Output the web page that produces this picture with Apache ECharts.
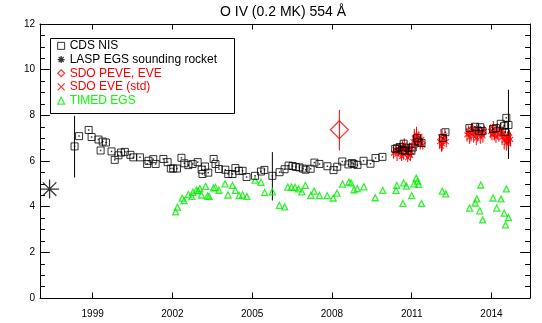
<!DOCTYPE html>
<html>
<head>
<meta charset="utf-8">
<script src="https://cdn.jsdelivr.net/npm/echarts@6/dist/echarts.min.js"></script>
<style>
html,body{margin:0;padding:0;background:#fff;}
#chart{width:542px;height:323px;}
</style>
</head>
<body>
<div id="chart"></div>
<script>
const titleText = 'O IV (0.2 MK) 554 Å';
const xTickYears = [1999, 2002, 2005, 2008, 2011, 2014];
const yTickValues = [0, 2, 4, 6, 8, 10, 12];

const cdsYears = [1998.32,1998.49,1998.85,1998.96,1999.22,1999.38,1999.50,1999.30,1999.71,1999.83,
1999.97,2000.07,2000.21,2000.42,2000.53,2000.78,2001.05,2001.10,2001.28,2001.37,
2001.66,2001.82,2001.94,2002.03,2002.17,2002.34,2002.45,2002.60,2002.76,2002.95,
2003.10,2003.13,2003.23,2003.35,2003.55,2003.62,2003.75,2003.99,2004.10,2004.26,
2004.37,2004.50,2004.64,2004.79,2005.11,2005.33,2005.46,2005.76,2006.03,2006.22,
2006.37,2006.52,2006.64,2006.78,2006.91,2007.01,2007.20,2007.34,2007.53,2007.83,
2008.06,2008.20,2008.39,2008.62,2008.75,2008.82,2008.96,2009.19,2009.45,2009.64,
2009.90,2010.38,2010.45,2010.55,2010.70,2010.66,2010.74,2010.88,2010.99,2011.04,
2011.20,2011.25,2011.37,2012.17,2012.27,2013.17,2013.38,2013.58,2013.52,2013.66,
2014.06,2014.17,2014.35,2014.52,2014.56,2014.64,2014.48];
const cdsValues = [6.64,7.09,7.36,7.05,6.94,6.85,6.81,6.46,6.42,6.05,
6.25,6.37,6.40,6.27,6.16,6.16,5.87,6.01,6.08,5.87,
6.09,5.95,5.67,5.67,5.67,6.14,5.90,5.82,5.87,5.95,
5.62,5.43,5.76,5.49,6.09,5.87,5.65,5.62,5.43,5.43,
5.69,5.57,5.57,5.30,5.35,5.54,5.61,5.35,5.51,5.64,
5.80,5.78,5.74,5.72,5.67,5.62,5.66,5.93,5.87,5.77,
5.60,5.75,5.98,5.85,5.91,5.87,5.83,6.01,5.88,6.13,
6.18,6.53,6.56,6.61,6.76,6.47,6.45,6.58,6.45,6.59,
7.00,6.85,6.79,7.01,7.26,7.44,7.50,7.48,7.32,7.31,
7.40,7.44,7.63,7.27,7.89,7.58,7.54];
const cdsErrYears = [1998.32, 2005.76, 2014.64];
const cdsErrLow = [5.28, 4.27, 6.09];
const cdsErrHigh = [7.98, 6.39, 9.12];

const laspYears = [1997.38];
const laspValues = [4.77];

const peveYears = [2008.28];
const peveValues = [7.37];
const peveErrLow = [6.46];
const peveErrHigh = [8.24];

const sdoYears = [2010.32,2010.38,2010.45,2010.50,2010.55,2010.60,2010.62,2010.65,2010.70,2010.72,2010.78,2010.82,2010.85,2010.88,2010.92,2010.95,2011.00,2011.05,2011.10,2011.15,2011.18,2011.22,2011.27,2011.32,2011.38,2011.42,
2012.05,2012.10,2012.12,2012.15,2012.20,2012.25,2012.30,
2013.08,2013.13,2013.18,2013.23,2013.28,2013.33,2013.38,2013.43,2013.48,2013.53,2013.58,2013.63,2013.68,2013.73,
2013.97,2014.02,2014.07,2014.12,2014.17,2014.22,2014.28,2014.34,2014.40,2014.44,2014.48,2014.52,2014.56,2014.60,2014.64,2014.68,2014.72];
const sdoValues = [6.35,6.50,6.30,6.45,6.60,6.40,6.20,6.55,6.30,6.70,6.50,6.35,6.15,6.45,6.60,6.25,6.40,6.85,7.00,6.75,7.15,6.90,7.05,6.80,6.95,6.70,
6.85,7.05,6.65,6.75,6.95,7.10,6.85,
7.15,7.30,7.05,7.20,7.40,7.10,7.25,7.00,7.20,7.35,7.05,7.25,7.10,7.30,
7.30,7.15,7.40,7.20,7.05,7.30,7.15,7.35,7.05,7.20,6.90,7.10,6.80,7.00,6.75,7.05,6.95];
const sdoErr = [0.25,0.20,0.30,0.25,0.20,0.30,0.20,0.35,0.25,0.30,0.20,0.25,0.20,0.30,0.20,0.25,0.25,0.30,0.40,0.25,0.35,0.30,0.25,0.30,0.25,0.20,
0.30,0.35,0.25,0.30,0.25,0.30,0.25,
0.30,0.25,0.30,0.35,0.25,0.30,0.25,0.30,0.35,0.25,0.30,0.25,0.30,0.25,
0.30,0.25,0.35,0.30,0.25,0.35,0.30,0.25,0.35,0.30,0.40,0.30,0.35,0.30,0.35,0.30,0.30];

const timedYears = [2002.12,2002.19,2002.37,2002.44,2002.60,2002.73,2002.77,2002.90,2003.03,2002.97,
2003.09,2003.25,2003.32,2003.38,2003.55,2003.62,2003.75,2003.98,2004.09,2004.26,
2004.37,2004.51,2004.64,2004.80,2005.11,2005.33,2005.47,2005.76,2006.02,2006.22,
2006.34,2006.48,2006.61,2006.74,2006.87,2007.00,2007.21,2007.33,2007.53,2007.82,
2008.05,2008.19,2008.40,2008.64,2008.72,2008.83,2008.95,2009.20,2009.63,2009.91,
2010.41,2010.44,2010.67,2010.70,2010.80,2011.00,2011.09,2011.17,2011.22,2011.26,
2011.37,2012.15,2012.28,2013.18,2013.39,2013.45,2013.56,2013.60,2013.67,2014.06,
2014.20,2014.36,2014.48,2014.56,2014.64,2014.53];
const timedValues = [3.77,3.98,4.37,4.27,4.54,4.45,4.63,4.72,4.79,4.70,
4.51,4.89,4.46,4.45,4.82,4.84,4.72,5.00,4.51,4.93,
4.71,4.49,4.52,4.45,5.16,5.07,4.62,4.65,4.06,3.99,
4.86,4.86,4.85,4.78,4.65,4.93,4.50,4.68,4.49,4.48,
4.38,4.59,4.99,5.08,5.04,4.74,4.79,4.87,4.39,4.71,
4.71,4.93,4.14,5.04,4.90,4.48,5.00,5.25,5.12,4.98,
4.14,4.68,4.56,3.94,4.16,4.34,3.82,4.95,3.42,4.38,
3.94,4.34,3.72,4.78,3.52,3.20];

const BLACK = '#000000', RED = '#ff0000', GREEN = '#00ee00';
const FONT = 'Liberation Sans';
const asteriskPath = 'path://M0,10L20,10M10,0L10,20M2.9,2.9L17.1,17.1M17.1,2.9L2.9,17.1';
const crossPath = 'path://M0,0L10,10M10,0L0,10';

const zip = (a, b) => a.map((v, i) => [v, b[i]]);
const zip3 = (a, b, c) => a.map((v, i) => [v, b[i], c[i]]);

function errorBars(color) {
  return function (params, api) {
    const x = api.value(0), lo = api.value(1), hi = api.value(2);
    const p1 = api.coord([x, lo]), p2 = api.coord([x, hi]);
    return { type: 'line', shape: { x1: p1[0], y1: p1[1], x2: p2[0], y2: p2[1] },
      style: { stroke: color, lineWidth: 1 } };
  };
}

const xMin = 1997.02, xMax = 2015.45;

const option = {
  animation: false,
  backgroundColor: '#ffffff',
  title: {
    text: titleText, left: 283, top: 5, padding: 0, textAlign: 'center',
    textStyle: { fontFamily: FONT, fontSize: 14, fontWeight: 'normal', color: BLACK }
  },
  grid: { left: 40, top: 24, width: 490, height: 274, containLabel: false },
  xAxis: [
    { type: 'value', min: xMin, max: xMax, position: 'bottom',
      axisLine: { show: true, onZero: false, lineStyle: { color: BLACK, width: 1 } },
      axisTick: { show: true, inside: true, length: 5.5, customValues: xTickYears, lineStyle: { color: BLACK } },
      axisLabel: { show: true, customValues: xTickYears, margin: 11, color: BLACK, fontFamily: FONT, fontSize: 10,
        formatter: v => String(Math.round(v)) },
      splitLine: { show: false } },
    { type: 'value', min: xMin, max: xMax, position: 'top',
      axisLine: { show: true, onZero: false, lineStyle: { color: BLACK, width: 1 } },
      axisTick: { show: true, inside: true, length: 5.5, customValues: xTickYears, lineStyle: { color: BLACK } },
      axisLabel: { show: false },
      splitLine: { show: false } }
  ],
  yAxis: [
    { type: 'value', min: 0, max: 12, interval: 2, position: 'left',
      axisLine: { show: true, onZero: false, lineStyle: { color: BLACK, width: 1 } },
      axisTick: { show: true, inside: true, length: 9.8, lineStyle: { color: BLACK } },
      minorTick: { show: true, splitNumber: 4, length: 4.9, lineStyle: { color: BLACK } },
      axisLabel: { show: true, margin: 5, color: BLACK, fontFamily: FONT, fontSize: 10 },
      splitLine: { show: false }, minorSplitLine: { show: false } },
    { type: 'value', min: 0, max: 12, interval: 2, position: 'right',
      axisLine: { show: true, onZero: false, lineStyle: { color: BLACK, width: 1 } },
      axisTick: { show: true, inside: true, length: 9.8, lineStyle: { color: BLACK } },
      minorTick: { show: true, splitNumber: 4, length: 4.9, lineStyle: { color: BLACK } },
      axisLabel: { show: false },
      splitLine: { show: false }, minorSplitLine: { show: false } }
  ],
  legend: {
    orient: 'vertical', left: 57, top: 39, padding: 0, itemGap: 0,
    itemWidth: 7, itemHeight: 7, selectedMode: false,
    textStyle: { fontFamily: FONT, fontSize: 12, lineHeight: 13.7 },
    data: [
      { name: 'CDS NIS', icon: 'rect', itemStyle: { color: 'transparent', borderColor: BLACK, borderWidth: 1 }, textStyle: { color: BLACK } },
      { name: 'LASP EGS sounding rocket', icon: asteriskPath, itemStyle: { color: 'transparent', borderColor: BLACK, borderWidth: 1.3 }, textStyle: { color: BLACK } },
      { name: 'SDO PEVE, EVE', icon: 'diamond', itemStyle: { color: 'transparent', borderColor: RED, borderWidth: 1.2 }, textStyle: { color: RED } },
      { name: 'SDO EVE (std)', icon: crossPath, itemStyle: { color: 'transparent', borderColor: RED, borderWidth: 1.2 }, textStyle: { color: RED } },
      { name: 'TIMED EGS', icon: 'triangle', itemStyle: { color: 'transparent', borderColor: GREEN, borderWidth: 1.2 }, textStyle: { color: '#00ff00' } }
    ]
  },
  graphic: [
    { type: 'rect', left: 48, top: 36, shape: { width: 184, height: 75 },
      style: { fill: 'none', stroke: BLACK, lineWidth: 1 }, z: 10, silent: true }
  ],
  series: [
    { name: 'TIMED EGS', type: 'scatter', data: zip(timedYears, timedValues),
      symbol: 'triangle', symbolSize: 6,
      itemStyle: { color: 'transparent', borderColor: GREEN, borderWidth: 1.3 } },
    { name: 'sdo-err', type: 'custom', renderItem: errorBars(RED),
      data: sdoYears.map((x, i) => [x, sdoValues[i] - sdoErr[i], sdoValues[i] + sdoErr[i]]),
      encode: { x: 0, y: [1, 2] }, silent: true },
    { name: 'SDO EVE (std)', type: 'scatter', data: zip(sdoYears, sdoValues),
      symbol: crossPath, symbolSize: 5,
      itemStyle: { color: 'transparent', borderColor: RED, borderWidth: 1.2 } },
    { name: 'peve-err', type: 'custom', renderItem: errorBars(RED),
      data: zip3(peveYears, peveErrLow, peveErrHigh), encode: { x: 0, y: [1, 2] }, silent: true },
    { name: 'SDO PEVE, EVE', type: 'scatter', data: zip(peveYears, peveValues),
      symbol: 'diamond', symbolSize: [18, 18],
      itemStyle: { color: 'transparent', borderColor: RED, borderWidth: 1.2 } },
    { name: 'cds-err', type: 'custom', renderItem: errorBars(BLACK),
      data: zip3(cdsErrYears, cdsErrLow, cdsErrHigh), encode: { x: 0, y: [1, 2] }, silent: true },
    { name: 'CDS NIS', type: 'scatter', data: zip(cdsYears, cdsValues),
      symbol: 'rect', symbolSize: 7,
      itemStyle: { color: 'transparent', borderColor: BLACK, borderWidth: 1 } },
    { name: 'cds-dot', type: 'scatter', data: zip(cdsYears, cdsValues),
      symbol: 'rect', symbolSize: 1.5, silent: true,
      itemStyle: { color: BLACK } },
    { name: 'LASP EGS sounding rocket', type: 'scatter', data: zip(laspYears, laspValues),
      symbol: asteriskPath, symbolSize: 19,
      itemStyle: { color: 'transparent', borderColor: BLACK, borderWidth: 1.3 } }
  ]
};

const chart = echarts.init(document.getElementById('chart'), null, { renderer: 'canvas' });
chart.setOption(option);
</script>
</body>
</html>
